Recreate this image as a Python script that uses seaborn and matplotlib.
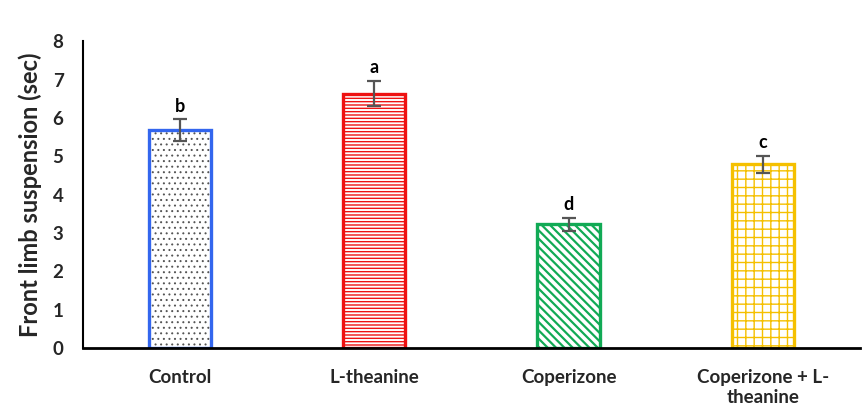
import matplotlib
matplotlib.use("Agg")
import matplotlib.pyplot as plt
import seaborn as sns
import pandas as pd

groups = ["Control", "L-theanine", "Coperizone", "Coperizone + L-\ntheanine"]
means = [5.68, 6.63, 3.23, 4.79]
errors = [0.28, 0.33, 0.17, 0.22]
letters = ["b", "a", "d", "c"]
edge_colors = ["#3366ee", "#ee1111", "#11aa55", "#f5c000"]
hatch_colors = ["#555555", "#ee1111", "#11aa55", "#f5c000"]
hatches = ["...", "-----", "\\\\\\\\", "++"]
hatch_lw = [0.7, 1.0, 1.6, 1.0]

sns.set_theme(style="white")
plt.rcParams['font.family'] = ['Lato', 'DejaVu Sans']
plt.rcParams['hatch.linewidth'] = 1.0

df = pd.DataFrame({"group": groups, "value": means})

fig = plt.figure(figsize=(8.68, 4.2), dpi=100)
ax = fig.add_axes([0.0956, 0.171, 0.895, 0.731])

sns.barplot(data=df, x="group", y="value", ax=ax, width=0.32,
            color="white", errorbar=None)
for p, hc, h, hl in zip(ax.patches, hatch_colors, hatches, hatch_lw):
    p.set_hatch(h)
    p.set_edgecolor(hc)
    p.set_linewidth(0)
    p.set_facecolor("white")
    if hasattr(p, "set_hatch_linewidth"):
        p.set_hatch_linewidth(hl)
    else:
        p._hatch_linewidth = hl

sns.barplot(data=df, x="group", y="value", ax=ax, width=0.32,
            fill=False, errorbar=None)
for p, ec in zip(ax.patches[len(groups):], edge_colors):
    p.set_edgecolor(ec)
    p.set_linewidth(2.4)

ax.errorbar(range(len(groups)), means, yerr=errors, fmt="none",
            ecolor="#555555", elinewidth=1.6, capsize=5, capthick=1.6)

for i, (m, e, l) in enumerate(zip(means, errors, letters)):
    ax.text(i, m + e + 0.12, l, ha="center", va="bottom",
            fontsize=13, fontweight="bold", color="black")

ax.set_xlim(-0.5, 3.5)
ax.set_ylim(0, 8)
ax.set_yticks(range(0, 9))
ax.set_xlabel("")
ax.set_ylabel("Front limb suspension (sec)", fontsize=17, fontweight="bold",
              labelpad=8)
ax.tick_params(axis="both", length=0, labelsize=13.5)
ax.tick_params(axis="x", pad=15)
ax.tick_params(axis="y", pad=14)
for lab in ax.get_xticklabels() + ax.get_yticklabels():
    lab.set_fontweight("bold")
for s in ["top", "right"]:
    ax.spines[s].set_visible(False)
ax.spines["left"].set_color("black")
ax.spines["bottom"].set_color("black")
ax.spines["left"].set_linewidth(1.5)
ax.spines["bottom"].set_linewidth(2)

fig.savefig("out.png", dpi=100)
